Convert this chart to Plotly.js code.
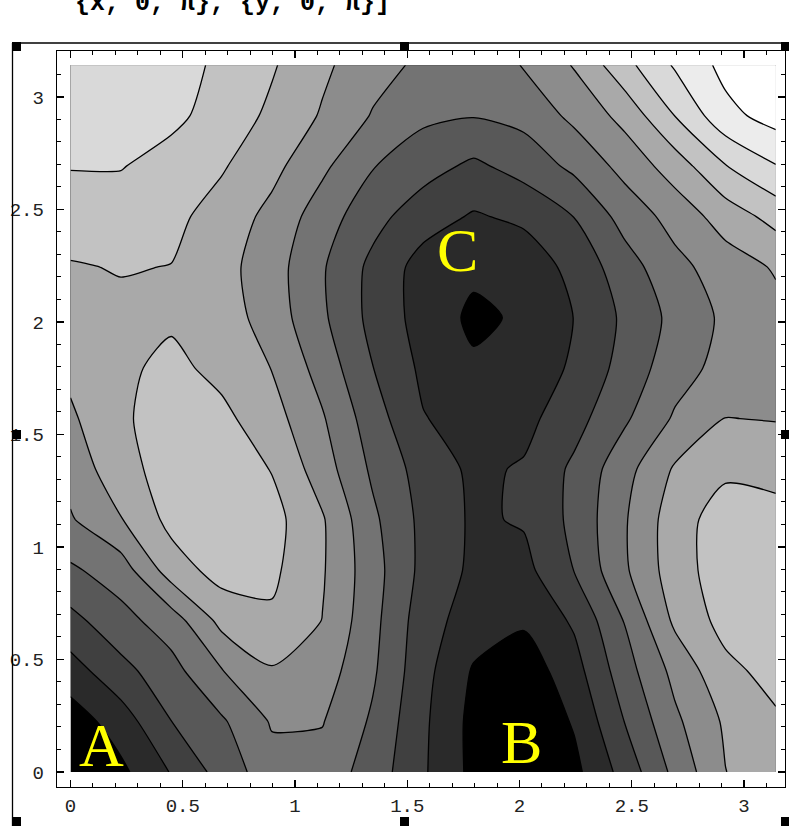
<!DOCTYPE html>
<html><head><meta charset="utf-8">
<script src="https://cdn.plot.ly/plotly-3.0.1.min.js"></script>
<style>html,body{margin:0;padding:0;background:#fff;overflow:hidden}</style>
</head><body><div id="chart" style="width:789px;height:826px"></div>
<script>
// grid of the contour data (0 .. pi, 15 points)
const xGrid = [0, 0.2244, 0.4488, 0.6732, 0.8976, 1.1220, 1.3464, 1.5708, 1.7952, 2.0196, 2.2440, 2.4684, 2.6928, 2.9172, 3.1416];
const yGrid = [0, 0.2244, 0.4488, 0.6732, 0.8976, 1.1220, 1.3464, 1.5708, 1.7952, 2.0196, 2.2440, 2.4684, 2.6928, 2.9172, 3.1416];
// function values (in contour-band units), one row per y
const zRow00 = [-1.0, 0.27, 1.56, 2.88, 4.1, 4.1, 3.05, 1.63, 0.23, -0.38, 0.24, 1.87, 3.77, 5.48, 6.2];
const zRow01 = [-0.05, 1.0, 2.49, 3.36, 4.6, 4.55, 3.35, 1.69, 0.2, -0.4, 0.6, 2.52, 4.3, 5.65, 6.35];
const zRow02 = [1.07, 2.17, 3.15, 4.45, 5.4, 5.0, 3.65, 1.83, 0.4, -0.1, 1.11, 3.06, 4.8, 6.23, 6.85];
const zRow03 = [2.2, 3.16, 4.0, 5.8, 6.35, 5.48, 3.8, 1.96, 1.0, 0.65, 1.65, 3.55, 5.7, 6.85, 7.2];
const zRow04 = [3.34, 4.0, 6.0, 6.9, 6.7, 5.6, 3.9, 2.22, 1.3, 1.2, 2.53, 4.35, 6.04, 7.05, 7.2];
const zRow05 = [4.4, 5.45, 6.8, 7.25, 6.85, 5.6, 3.7, 2.23, 1.35, 1.6, 2.75, 4.4, 6.05, 7.0, 6.8];
const zRow06 = [4.88, 6.13, 6.95, 7.2, 6.45, 4.98, 3.32, 2.08, 1.3, 1.6, 2.7, 4.14, 5.62, 6.3, 6.22];
const zRow07 = [5.34, 6.35, 6.95, 6.75, 5.9, 4.6, 2.96, 1.55, 1.1, 1.2, 2.13, 3.35, 4.63, 5.52, 5.45];
const zRow08 = [5.73, 6.3, 6.75, 6.22, 5.47, 4.1, 2.52, 1.3, 0.65, 0.9, 1.65, 2.88, 4.07, 4.85, 5.0];
const zRow09 = [6.08, 6.3, 6.35, 6.0, 5.04, 3.67, 2.2, 1.1, 0.3, 0.65, 1.52, 2.69, 3.79, 4.7, 5.2];
const zRow10 = [6.43, 6.55, 6.48, 5.85, 4.94, 3.6, 2.24, 1.1, 0.7, 0.9, 1.8, 3.06, 4.2, 5.0, 5.6];
const zRow11 = [6.96, 7.0, 6.75, 6.1, 5.21, 3.99, 2.84, 1.94, 1.4, 1.7, 2.52, 3.87, 4.88, 5.95, 6.85];
const zRow12 = [7.55, 7.55, 7.1, 6.6, 5.79, 4.7, 3.55, 2.9, 2.3, 2.9, 3.73, 4.83, 5.98, 7.45, 8.45];
const zRow13 = [7.9, 7.95, 7.75, 7.08, 6.3, 5.4, 4.43, 3.7, 3.55, 3.8, 4.75, 5.82, 7.52, 9.2, 9.9];
const zRow14 = [8.1, 8.1, 7.95, 7.29, 6.6, 5.7, 4.87, 4.3, 4.15, 4.53, 5.58, 7.18, 8.62, 9.8, 10.8];
const zGrid = [zRow00, zRow01, zRow02, zRow03, zRow04, zRow05, zRow06, zRow07, zRow08, zRow09, zRow10, zRow11, zRow12, zRow13, zRow14];

const bandColors = ['#000000', '#2a2a2a', '#404040', '#585858', '#737373', '#8c8c8c', '#a9a9a9', '#c2c2c2', '#d9d9d9', '#ececec', '#ffffff'];
const tickValues = [0, 0.5, 1, 1.5, 2, 2.5, 3];
const tickLabels = ['0', '0.5', '1', '1.5', '2', '2.5', '3'];
const minorTickValues = [0.1, 0.2, 0.3, 0.4, 0.6, 0.7, 0.8, 0.9, 1.1, 1.2, 1.3, 1.4, 1.6, 1.7, 1.8, 1.9, 2.1, 2.2, 2.3, 2.4, 2.6, 2.7, 2.8, 2.9, 3.1];
const pointLabels = ['A', 'B', 'C'];
const headerText = '{x, 0, π}, {y, 0, π}]';

// stepped grey scale: one flat step per band
const n = bandColors.length - 1;
const colorscale = [];
bandColors.forEach((c, k) => {
  const lo = Math.max(0, (k - 0.5) / n), hi = Math.min(1, (k + 0.5) / n);
  colorscale.push([lo, c]); colorscale.push([hi, c]);
});

const W = 789, H = 826, L = 57, R = 4, T = 51, B = 39;
const pw = W - L - R, ph = H - T - B;
const px = v => (v - L) / pw;
const py = v => (H - B - v) / ph;

const trace = {
  type: 'contour', x: xGrid, y: yGrid, z: zGrid,
  contours: {start: 0.5, end: 9.5, size: 1, coloring: 'fill', showlines: true},
  line: {color: '#000', width: 1.3, smoothing: 0.7},
  colorscale: colorscale, showscale: false, hoverinfo: 'skip'
};

const axisCommon = {
  showgrid: false, zeroline: false, showline: true, linecolor: '#000', linewidth: 1.3,
  mirror: 'ticks', ticks: 'inside', ticklen: 7, tickwidth: 1.2, tickcolor: '#000',
  tickmode: 'array', tickvals: tickValues, ticktext: tickLabels,
  tickfont: {family: 'Liberation Mono, DejaVu Sans Mono, monospace', size: 19, color: '#222'},
  minor: {tickmode: 'array', tickvals: minorTickValues, ticks: 'inside', ticklen: 4, tickwidth: 1, tickcolor: '#000', showgrid: false}
};

const handleBoxes = [[12, 42], [400, 42], [781, 42], [12, 430], [781, 430], [12, 817], [400, 817], [781, 817]];
const shapes = [
  {type: 'line', xref: 'paper', yref: 'paper', x0: px(12.5), x1: px(12.5), y0: py(43), y1: py(830), line: {color: '#000', width: 1.3}},
  {type: 'line', xref: 'paper', yref: 'paper', x0: px(12.5), x1: px(795), y0: py(43), y1: py(43), line: {color: '#000', width: 1.3}}
];
handleBoxes.forEach(([hx, hy]) => shapes.push({
  type: 'rect', xref: 'paper', yref: 'paper', x0: px(hx), x1: px(hx + 9), y0: py(hy), y1: py(hy + 9),
  fillcolor: '#000', line: {width: 0}
}));

const letterFont = {family: 'Liberation Serif, DejaVu Serif, serif', size: 62, color: '#ffff00'};
const annotations = [
  {x: 0.136, y: 0.12, text: pointLabels[0]},
  {x: 2.011, y: 0.135, text: pointLabels[1]},
  {x: 1.726, y: 2.32, text: pointLabels[2]}
].map(a => Object.assign(a, {xref: 'x', yref: 'y', showarrow: false, xanchor: 'center', yanchor: 'middle', font: letterFont}));
annotations.push({
  xref: 'paper', yref: 'paper', x: px(73), y: py(20), xanchor: 'left', yanchor: 'bottom',
  text: '<b>' + headerText + '</b>', showarrow: false,
  font: {family: 'Liberation Mono, DejaVu Sans Mono, monospace', size: 25, color: '#000'}
});

const layout = {
  width: W, height: H, margin: {l: L, r: R, t: T, b: B, pad: 0},
  paper_bgcolor: '#fff', plot_bgcolor: '#fff', showlegend: false,
  xaxis: Object.assign({}, axisCommon, {range: [-0.0601, 3.1826], ticklabelstandoff: 1}),
  yaxis: Object.assign({}, axisCommon, {range: [-0.0667, 3.2044], ticklabelstandoff: 8}),
  shapes: shapes, annotations: annotations
};

Plotly.newPlot('chart', [trace], layout, {staticPlot: true, displayModeBar: false});
</script></body></html>
